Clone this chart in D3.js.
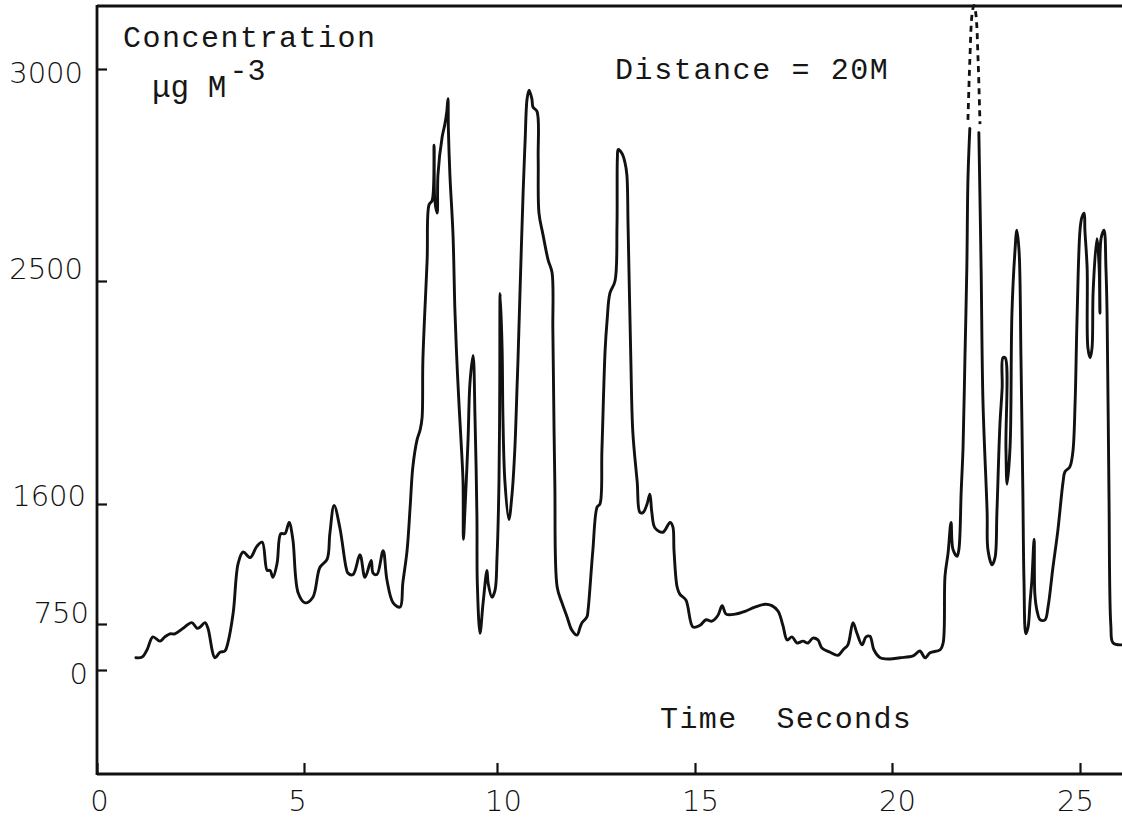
<!DOCTYPE html>
<html>
<head>
<meta charset="utf-8">
<script src="https://cdn.jsdelivr.net/npm/d3@7"></script>
<style>
  html, body { margin: 0; padding: 0; background: #ffffff; }
  svg { display: block; }
  .mono { font-family: "Liberation Mono", "DejaVu Sans Mono", monospace; fill: #161616; }
  .num { font-family: "DejaVu Sans", Lato, sans-serif; font-weight: 200; fill: #111; }
</style>
</head>
<body>
<svg id="chart" width="1122" height="818"></svg>
<script>
// Time axis (seconds) and its tick marks
const xTicks = [0, 5, 10, 15, 20, 25];
// Concentration axis (µg m^-3) tick marks — the axis is hand-ruled, not uniform
const yTicks = [0, 750, 1600, 2500, 3000];

// Recorded concentration trace; null marks where the pen trace leaves the chart top
const times = [
  0.94, 1.09, 1.21, 1.35, 1.52, 1.64, 1.76, 1.88, 2.08, 2.29, 2.42, 2.49, 2.61, 2.68, 2.85, 2.97,
  3.09, 3.16, 3.29, 3.41, 3.53, 3.70, 3.86, 3.99, 4.11, 4.18, 4.25, 4.35, 4.44, 4.54, 4.64, 4.73,
  4.86, 5.03, 5.23, 5.41, 5.60, 5.67, 5.78, 5.93, 6.09, 6.14, 6.27, 6.45, 6.58, 6.74, 6.79, 6.89,
  7.05, 7.15, 7.31, 7.49, 7.56, 7.67, 7.75, 7.82, 7.93, 8.01, 8.06, 8.08, 8.19, 8.24, 8.32, 8.37,
  8.39, 8.45, 8.47, 8.58, 8.65, 8.70, 8.73, 8.74, 8.78, 8.86, 8.91, 8.96, 9.02, 9.07, 9.12, 9.13,
  9.17, 9.25, 9.30, 9.38, 9.43, 9.48, 9.49, 9.56, 9.64, 9.74, 9.77, 9.87, 9.95, 10.00, 10.05, 10.07,
  10.08, 10.13, 10.15, 10.20, 10.30, 10.38, 10.45, 10.51, 10.53, 10.58, 10.66, 10.71, 10.76, 10.81, 10.88, 10.91,
  11.01, 11.04, 11.06, 11.16, 11.29, 11.39, 11.41, 11.42, 11.46, 11.52, 11.64, 11.77, 11.89, 12.02, 12.10, 12.15,
  12.27, 12.30, 12.42, 12.53, 12.60, 12.65, 12.73, 12.78, 12.85, 12.98, 13.03, 13.04, 13.06, 13.16, 13.23, 13.28,
  13.31, 13.38, 13.43, 13.54, 13.61, 13.69, 13.79, 13.86, 13.91, 13.99, 14.19, 14.37, 14.44, 14.47, 14.55, 14.62,
  14.77, 14.95, 15.13, 15.28, 15.43, 15.58, 15.69, 15.79, 16.02, 16.27, 16.52, 16.78, 16.95, 17.11, 17.23, 17.34,
  17.46, 17.59, 17.74, 17.87, 17.99, 18.12, 18.22, 18.43, 18.63, 18.76, 18.88, 19.01, 19.11, 19.24, 19.34, 19.44,
  19.54, 19.70, 19.95, 20.21, 20.56, 20.74, 20.88, 21.01, 21.28, 21.36, 21.41, 21.49, 21.57, 21.62, 21.73, 21.78,
  21.84, 21.89, 21.94, 21.99, 22.02, 22.07, 22.20, 22.31, 22.37, 22.42, 22.53, 22.55, 22.66, 22.74, 22.79, 22.87,
  22.93, 22.95, 23.01, 23.03, 23.06, 23.14, 23.19, 23.27, 23.32, 23.38, 23.43, 23.48, 23.51, 23.56, 23.62, 23.67,
  23.72, 23.78, 23.80, 23.86, 23.94, 24.07, 24.15, 24.28, 24.41, 24.55, 24.60, 24.73, 24.81, 24.87, 24.92, 25.00,
  25.05, 25.11, 25.13, 25.19, 25.21, 25.27, 25.32, 25.35, 25.45, 25.51, 25.53, 25.56, 25.64, 25.69, 25.72, 25.77,
  25.82, 25.88, 26.12
];
const conc = [
  200, 210, 330, 540, 470, 540, 590, 590, 680, 760, 680, 700, 760, 680, 200, 290,
  310, 440, 830, 1180, 1260, 1220, 1300, 1330, 1130, 1130, 1080, 1180, 1390, 1390, 1470, 1350,
  970, 900, 940, 1150, 1210, 1390, 1590, 1430, 1150, 1110, 1100, 1240, 1080, 1200, 1110, 1100,
  1270, 1060, 900, 870, 1040, 1270, 1580, 1750, 1860, 1900, 1950, 2180, 2550, 2680, 2690, 2820,
  2690, 2660, 2750, 2840, 2870, 2900, 2930, 2860, 2750, 2610, 2380, 2180, 1990, 1850, 1690, 1350,
  1560, 1860, 2090, 2200, 1950, 1510, 1040, 600, 900, 1130, 1040, 940, 990, 1220, 1690, 2090,
  2450, 2220, 1950, 1690, 1490, 1640, 1820, 2090, 2180, 2450, 2710, 2830, 2930, 2950, 2930, 2910,
  2900, 2790, 2660, 2610, 2550, 2520, 2310, 2180, 1690, 1010, 900, 800, 650, 570, 700, 760,
  800, 850, 1270, 1580, 1600, 1820, 2220, 2340, 2450, 2500, 2630, 2790, 2810, 2800, 2780, 2750,
  2630, 2180, 1890, 1690, 1540, 1540, 1600, 1640, 1540, 1430, 1400, 1470, 1440, 1270, 1010, 960,
  920, 700, 730, 780, 770, 810, 880, 820, 820, 840, 870, 890, 880, 840, 730, 490,
  540, 440, 470, 440, 520, 490, 360, 290, 240, 330, 410, 760, 600, 410, 540, 550,
  330, 200, 180, 200, 230, 310, 200, 280, 330, 440, 1090, 1250, 1470, 1280, 1230, 1280,
  1650, 1830, 2190, 2530, 2740, 2860, null, 2850, 2530, 2010, 1540, 1280, 1170, 1220, 1540, 1920,
  2070, 2190, 2190, 1830, 1680, 1830, 2370, 2570, 2620, 2570, 2190, 1650, 1060, 590, 700, 900,
  1060, 1350, 960, 840, 780, 780, 870, 1150, 1410, 1690, 1730, 1750, 1810, 2010, 2340, 2620,
  2650, 2660, 2620, 2530, 2230, 2190, 2230, 2460, 2600, 2530, 2370, 2600, 2620, 2530, 2370, 1650,
  730, 440, 410
];

// Off-scale peak near 22 s, sketched as a dashed continuation
const peakTimes = [22.02, 22.07, 22.13, 22.18, 22.23, 22.29, 22.34];
const peakConc  = [2880, 3020, 3130, 3150, 3130, 3020, 2870];

// Text drawn on the chart
const yTitle = "Concentration";
const yUnit = "\u03BCg M";
const yUnitExp = "-3";
const note = "Distance = 20M";
const xTitle = "Time  Seconds";

// ---- layout ----
const W = 1122, H = 818;
const frameTop = 6, frameBottom = 774, frameRight = W;

const x = d3.scaleLinear().domain(xTicks).range([97, 304, 497, 695, 892, 1080]);
const y = d3.scaleLinear().domain(yTicks).range([670, 624, 504, 281, 69]);

const svg = d3.select("#chart");

// Frame: left axis, top rule and bottom axis
const frame = svg.append("g").attr("stroke", "#111").attr("stroke-width", 2.8).attr("fill", "none");
frame.append("line").attr("x1", x(0)).attr("x2", x(0)).attr("y1", frameTop - 1).attr("y2", frameBottom + 1);
frame.append("line").attr("x1", x(0)).attr("x2", frameRight).attr("y1", frameTop).attr("y2", frameTop);
frame.append("line").attr("x1", x(0)).attr("x2", frameRight).attr("y1", frameBottom).attr("y2", frameBottom);

// Bottom axis ticks point up into the plot
const xAxis = svg.append("g")
  .attr("transform", `translate(0,${frameBottom})`)
  .call(d3.axisBottom(x).tickValues(xTicks).tickSizeInner(-11).tickSizeOuter(0).tickFormat(d3.format("d")));
xAxis.select(".domain").remove();
xAxis.selectAll(".tick line").attr("stroke", "#111").attr("stroke-width", 2.2);
const xNudge = {0: 2, 5: -7, 10: 6, 15: 5, 20: 5, 25: -5};
xAxis.selectAll(".tick text")
  .attr("class", "num")
  .attr("font-size", 29)
  .attr("y", 37).attr("dy", 0)
  .attr("x", d => xNudge[d] || 0);

// Left axis ticks point right into the plot
const yAxis = svg.append("g")
  .attr("transform", `translate(${x(0)},0)`)
  .call(d3.axisLeft(y).tickValues(yTicks).tickSizeInner(-10).tickSizeOuter(0).tickFormat(d3.format("d")));
yAxis.select(".domain").remove();
yAxis.selectAll(".tick line").attr("stroke", "#111").attr("stroke-width", 2.2);
const yNudge = {0: 13, 750: -2, 1600: 1, 2500: -3, 3000: 13};
const xLabelEdge = {0: -9, 750: -8, 1600: -11, 2500: -14, 3000: -14};
yAxis.selectAll(".tick text")
  .attr("class", "num")
  .attr("font-size", 29)
  .attr("text-anchor", "end")
  .attr("x", d => xLabelEdge[d])
  .attr("y", d => yNudge[d]).attr("dy", 0);

// Concentration trace
const pts = times.map((t, i) => ({t, v: conc[i]}));
const line = d3.line()
  .defined(d => d.v != null)
  .x(d => x(d.t))
  .y(d => y(d.v))
  .curve(d3.curveCatmullRom.alpha(0.5));

svg.append("path")
  .datum(pts)
  .attr("d", line)
  .attr("fill", "none")
  .attr("stroke", "#111")
  .attr("stroke-width", 2.9)
  .attr("stroke-linejoin", "round")
  .attr("stroke-linecap", "round");

// Dashed off-scale peak
const peak = peakTimes.map((t, i) => ({t, v: peakConc[i]}));
svg.append("path")
  .datum(peak)
  .attr("d", d3.line().x(d => x(d.t)).y(d => y(d.v)).curve(d3.curveCatmullRom.alpha(0.5)))
  .attr("fill", "none")
  .attr("stroke", "#111")
  .attr("stroke-width", 2.8)
  .attr("stroke-dasharray", "6 5");

// Annotations
svg.append("text").attr("class", "mono").attr("font-size", 30).attr("letter-spacing", 1.5)
  .attr("x", 123).attr("y", 47).text(yTitle);

const unit = svg.append("text").attr("class", "mono").attr("font-size", 31)
  .attr("x", 152).attr("y", 97);
unit.append("tspan").text(yUnit);
unit.append("tspan").attr("dy", -17).attr("dx", 3).attr("font-size", 30).text(yUnitExp);

svg.append("text").attr("class", "mono").attr("font-size", 30).attr("letter-spacing", 1.6)
  .attr("x", 615).attr("y", 79).text(note);

svg.append("text").attr("class", "mono").attr("font-size", 30).attr("letter-spacing", 1.4)
  .attr("x", 660).attr("y", 728).attr("xml:space", "preserve").style("white-space", "pre").text(xTitle);
</script>
</body>
</html>
